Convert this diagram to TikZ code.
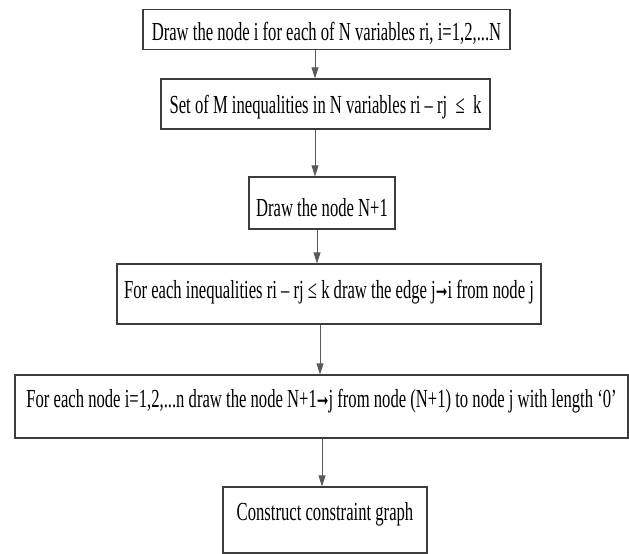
\documentclass[tikz,border=0pt]{standalone}
\usepackage{fontspec}
\setmainfont{Liberation Serif}[FakeStretch=0.64]
\newfontfamily\arrowfont{DejaVu Sans}[FakeStretch=0.7]
\newcommand{\toarr}{{\arrowfont\fontsize{20}{24}\selectfont ➞}}
\usetikzlibrary{arrows.meta}
\definecolor{frame}{HTML}{3C3C3C}
\definecolor{wire}{HTML}{5A5A5A}
\tikzset{arr/.style={-{Triangle[length=11pt,width=7pt]},line width=0.9pt,draw=wire},
  stepbox/.style={draw=frame,line width=1.3pt,fill=white,inner sep=0pt,align=center,
    font=\fontsize{26}{30}\selectfont,text=black}}

\begin{document}
\begin{tikzpicture}[x=1pt,y=-1pt]
\path[use as bounding box] (0,0) rectangle (629,554);
% steps of the flow
\node[stepbox,minimum width=367pt,minimum height=40pt,text height=27pt,text depth=6pt] (b1) at (326.5,29.5) {Draw the node i for each of N variables ri, i=1,2,...N};
\node[stepbox,minimum width=329pt,minimum height=50pt,text height=25pt,text depth=6pt] (b2) at (325.5,104) {Set of M inequalities in N variables ri – rj\ \ ≤\ \ k};
\node[stepbox,minimum width=146pt,minimum height=52pt,text height=33pt,text depth=6pt] (b3) at (322,203) {Draw the node N+1};
\node[stepbox,minimum width=424pt,minimum height=60pt,text height=17pt,text depth=8pt] (b4) at (329,294) {For each inequalities ri – rj ≤ k draw the edge j\toarr i from node j};
\node[stepbox,minimum width=613pt,minimum height=63pt,text height=18pt,text depth=17pt] (b5) at (321.5,406.5) {For each node i=1,2,...n draw the node N+1\toarr j from node (N+1) to node j with length ‘0’};
\node[stepbox,minimum width=204pt,minimum height=66pt,text height=18pt,text depth=17pt] (b6) at (325,520) {Construct constraint graph};
% arrows
\draw[arr] ([xshift=-11.5pt]b1.south) -- ([xshift=-11.5pt]b1.south |- b2.north);
\draw[arr] ([xshift=-10.5pt]b2.south) -- ([xshift=-10.5pt]b2.south |- b3.north);
\draw[arr] ([xshift=-5pt]b3.south) -- ([xshift=-5pt]b3.south |- b4.north);
\draw[arr] ([xshift=-9pt]b4.south) -- ([xshift=-9pt]b4.south |- b5.north);
\draw[arr] ([xshift=0.5pt]b5.south) -- ([xshift=0.5pt]b5.south |- b6.north);
\end{tikzpicture}
\end{document}
